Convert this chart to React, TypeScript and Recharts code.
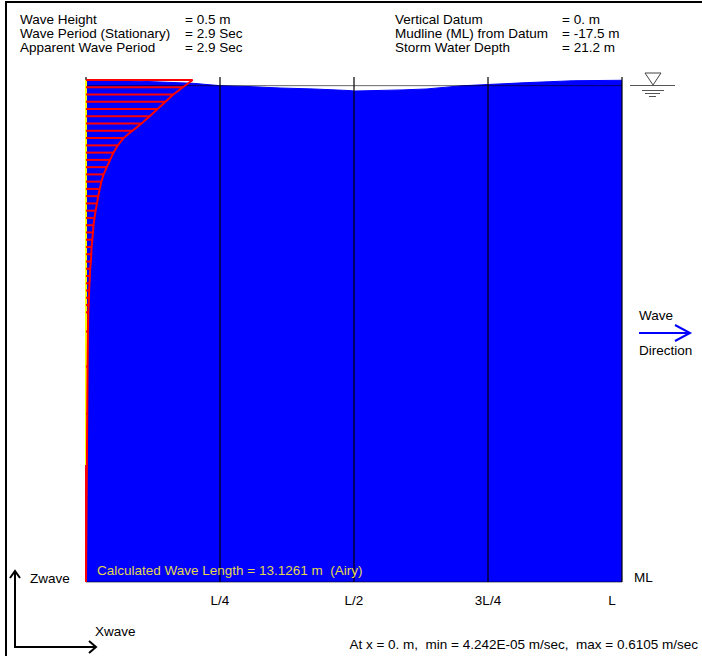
import React from 'react';
import {
  ComposedChart,
  Area,
  Line,
  XAxis,
  YAxis,
  ReferenceLine,
} from 'recharts';

// wave surface, x as fraction of wave length, eta in m
const surfaceX = [0, 0.1, 0.2, 0.25, 0.306, 0.362, 0.424, 0.493, 0.5, 0.591, 0.636, 0.698, 0.75, 0.823, 0.866, 0.909, 1.0];
const surfaceEta = [0.24, 0.19, 0.1, 0.0, -0.04, -0.1, -0.14, -0.21, -0.23, -0.18, -0.14, -0.01, 0.05, 0.13, 0.17, 0.21, 0.23];

// horizontal particle velocity profile at x = 0 (elevation m, velocity m/sec)
const profileZ = [
  0.24, -0.07, -0.38, -0.69, -1.0, -1.31, -1.62, -1.93, -2.24, -2.55, -2.86, -3.17,
  -3.48, -3.79, -4.1, -4.41, -4.72, -5.03, -5.34, -5.65, -5.96, -6.27, -6.58, -6.89,
  -7.2, -7.51, -7.82, -8.13, -8.44, -8.75, -9.06, -9.37, -9.68, -10.5, -12.0, -14.0,
  -16.2, -21.2,
];
const profileU = [
  0.611, 0.555, 0.5, 0.455, 0.41, 0.365, 0.318, 0.265, 0.215, 0.182, 0.157, 0.138,
  0.119, 0.101, 0.088, 0.079, 0.07, 0.063, 0.055, 0.049, 0.043, 0.04, 0.036, 0.032,
  0.03, 0.028, 0.024, 0.022, 0.02, 0.018, 0.017, 0.015, 0.013, 0.011, 0.009, 0.007,
  0.005, 0.0,
];

const tickPositions = [0.25, 0.5, 0.75, 1];
const tickLabels = ['L/4', 'L/2', '3L/4', 'L'];

const headerLeftLabels = ['Wave Height', 'Wave Period (Stationary)', 'Apparent Wave Period'];
const headerLeftValues = ['= 0.5 m', '= 2.9 Sec', '= 2.9 Sec'];
const headerRightLabels = ['Vertical Datum', 'Mudline (ML) from Datum', 'Storm Water Depth'];
const headerRightValues = ['= 0. m', '= -17.5 m', '= 21.2 m'];

const WATER_DEPTH = 21.2;
const Y_TOP = 0.37;
const VEL_MAX = 3.07;

const FONT = '"Liberation Sans", Arial, sans-serif';
const FS = 13.5;
const NB = '\u00a0';

const surfaceData = surfaceX.map((x, i) => ({ x, eta: surfaceEta[i] }));
const profileData = profileZ.map((z, i) => ({ u: profileU[i], z }));

const PosTick = (props: any) => {
  const { x, y, payload } = props;
  const idx = tickPositions.indexOf(payload.value);
  const label = idx >= 0 ? tickLabels[idx] : '';
  const shift = payload.value === 1 ? -10 : 0;
  return (
    <text x={x + shift} y={y + 15} textAnchor="middle" fontSize={FS} fontFamily={FONT} fill="#000">
      {label}
    </text>
  );
};

const gridStyle = { stroke: '#000', strokeOpacity: 0.6, strokeWidth: 2 };

export default function App() {
  return (
    <div style={{ position: 'absolute', left: 0, top: 0, width: 702, height: 656, background: '#fff' }}>
      <ComposedChart
        width={702}
        height={656}
        margin={{ top: 77, right: 80, bottom: 44, left: 86 }}
      >
        <XAxis
          xAxisId="pos"
          dataKey="x"
          type="number"
          domain={[0, 1]}
          ticks={tickPositions}
          tick={<PosTick />}
          tickLine={false}
          axisLine={false}
          height={30}
          allowDataOverflow
        />
        <XAxis xAxisId="vel" dataKey="u" type="number" domain={[0, VEL_MAX]} hide allowDataOverflow />
        <YAxis yAxisId="z" type="number" domain={[-WATER_DEPTH, Y_TOP]} hide allowDataOverflow />

        <Area
          data={surfaceData}
          xAxisId="pos"
          yAxisId="z"
          dataKey="eta"
          type="linear"
          baseValue={-WATER_DEPTH}
          fill="#0000ff"
          fillOpacity={1}
          stroke="#0000ff"
          strokeWidth={1}
          isAnimationActive={false}
        />

        <ReferenceLine xAxisId="pos" yAxisId="z" x={0} {...gridStyle} />
        {tickPositions.map((t) => (
          <ReferenceLine key={`g-${t}`} xAxisId="pos" yAxisId="z" x={t} {...gridStyle} />
        ))}
        <ReferenceLine xAxisId="pos" yAxisId="z" y={0} stroke="#000" strokeOpacity={0.6} strokeWidth={1} />
        <ReferenceLine xAxisId="pos" yAxisId="z" y={-WATER_DEPTH} stroke="#000" strokeOpacity={0.6} strokeWidth={1} />

        <ReferenceLine
          xAxisId="vel"
          yAxisId="z"
          segment={[{ x: 0, y: profileZ[0] }, { x: 0, y: -WATER_DEPTH }]}
          stroke="#ff0000"
          strokeWidth={2}
        />
        <ReferenceLine
          xAxisId="vel"
          yAxisId="z"
          segment={[{ x: 0, y: profileZ[0] }, { x: 0, y: -16.2 }]}
          stroke="#ffff00"
          strokeWidth={2}
        />
        {profileData.map((p) => (
          <ReferenceLine
            key={`h-${p.z}`}
            xAxisId="vel"
            yAxisId="z"
            segment={[{ x: 0, y: p.z }, { x: p.u, y: p.z }]}
            stroke="#ff0000"
            strokeWidth={2}
          />
        ))}
        <Line
          data={profileData}
          xAxisId="vel"
          yAxisId="z"
          dataKey="z"
          type="linear"
          stroke="#ff0000"
          strokeWidth={2}
          dot={false}
          isAnimationActive={false}
        />
      </ComposedChart>

      <svg
        width={702}
        height={656}
        style={{ position: 'absolute', left: 0, top: 0, pointerEvents: 'none' }}
        fontFamily={FONT}
        fontSize={FS}
      >
        {/* frame */}
        <line x1={5} y1={2} x2={702} y2={2} stroke="#000" strokeWidth={2} />
        <line x1={6} y1={2} x2={6} y2={656} stroke="#000" strokeWidth={2} />

        {/* header */}
        {headerLeftLabels.map((t, i) => (
          <text key={`hl-${i}`} x={20} y={24 + i * 14} fill="#000">{t}</text>
        ))}
        {headerLeftValues.map((t, i) => (
          <text key={`hlv-${i}`} x={185} y={24 + i * 14} fill="#000">{t}</text>
        ))}
        {headerRightLabels.map((t, i) => (
          <text key={`hr-${i}`} x={395} y={24 + i * 14} fill="#000">{t}</text>
        ))}
        {headerRightValues.map((t, i) => (
          <text key={`hrv-${i}`} x={562} y={24 + i * 14} fill="#000">{t}</text>
        ))}

        {/* still water level symbol */}
        <polygon points="645,73 661,73 653,85" fill="none" stroke="#444" strokeWidth={1} />
        <line x1={630} y1={85.5} x2={675} y2={85.5} stroke="#555" strokeWidth={1} />
        <line x1={642} y1={90.5} x2={664} y2={90.5} stroke="#555" strokeWidth={1} />
        <line x1={645} y1={93.5} x2={660} y2={93.5} stroke="#555" strokeWidth={1} />
        <line x1={649} y1={96.5} x2={656} y2={96.5} stroke="#555" strokeWidth={1} />

        {/* wave direction */}
        <text x={639} y={320} fill="#000">Wave</text>
        <line x1={639} y1={333} x2={690} y2={333} stroke="#0000ff" strokeWidth={2} />
        <polyline points="675,325 690,333 675,341" fill="none" stroke="#0000ff" strokeWidth={2} />
        <text x={639} y={355} fill="#000">Direction</text>

        {/* labels near mudline */}
        <text x={97} y={575} fill="#e0d84a">{`Calculated Wave Length = 13.1261 m ${NB}(Airy)`}</text>
        <text x={634} y={582} fill="#000">ML</text>

        {/* wave axes */}
        <polyline points="15,571 15,647 96,647" fill="none" stroke="#000" strokeWidth={2} />
        <polyline points="10,578 15,571 20,578" fill="none" stroke="#000" strokeWidth={2} />
        <polyline points="89,641 96,647 89,653" fill="none" stroke="#000" strokeWidth={2} />
        <text x={30} y={583} fill="#000">Zwave</text>
        <text x={95} y={636} fill="#000">Xwave</text>

        <text x={698} y={649} textAnchor="end" fill="#000">
          {`At x = 0. m, ${NB}min = 4.242E-05 m/sec, ${NB}max = 0.6105 m/sec`}
        </text>
      </svg>
    </div>
  );
}
